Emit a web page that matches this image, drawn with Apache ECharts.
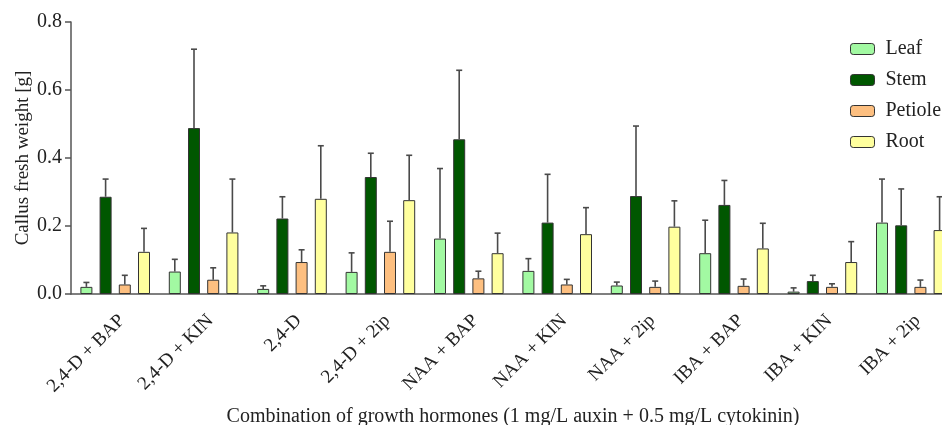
<!DOCTYPE html>
<html>
<head>
<meta charset="utf-8">
<script src="https://cdn.jsdelivr.net/npm/echarts@6/dist/echarts.min.js"></script>
<style>
  html, body { margin: 0; padding: 0; background: #fff; }
  #chart { width: 942px; height: 425px; }
</style>
</head>
<body>
<div id="chart"></div>
<script>
// values (g), error = SD above the mean
const categories = ['2,4-D + BAP', '2,4-D + KIN', '2,4-D', '2,4-D + 2ip', 'NAA + BAP',
  'NAA + KIN', 'NAA + 2ip', 'IBA + BAP', 'IBA + KIN', 'IBA + 2ip']
const seriesNames = ['Leaf', 'Stem', 'Petiole', 'Root']

const leaf = [0.021, 0.066, 0.015, 0.065, 0.163, 0.068, 0.025, 0.120, 0.007, 0.210]
const stem = [0.286, 0.488, 0.222, 0.344, 0.455, 0.210, 0.288, 0.262, 0.038, 0.202]
const petiole = [0.028, 0.042, 0.094, 0.124, 0.046, 0.028, 0.021, 0.024, 0.021, 0.021]
const root = [0.124, 0.181, 0.280, 0.276, 0.120, 0.176, 0.198, 0.134, 0.094, 0.188]

const leafErr = [0.013, 0.036, 0.009, 0.056, 0.206, 0.036, 0.010, 0.097, 0.011, 0.128]
const stemErr = [0.052, 0.232, 0.064, 0.070, 0.203, 0.142, 0.206, 0.072, 0.017, 0.107]
const petioleErr = [0.027, 0.035, 0.036, 0.090, 0.021, 0.015, 0.017, 0.020, 0.009, 0.020]
const rootErr = [0.069, 0.157, 0.156, 0.132, 0.059, 0.078, 0.076, 0.074, 0.060, 0.098]

const colors = ['#a2f9a2', '#005700', '#fdbf80', '#ffff9e']
const font = 'Liberation Serif'
const barWidth = 12
const barGap = 0.6

const means = [leaf, stem, petiole, root]
const errs = [leafErr, stemErr, petioleErr, rootErr]

const chart = echarts.init(document.getElementById('chart'))

const series = []
seriesNames.forEach((name, k) => {
  series.push({
    name,
    type: 'bar',
    data: means[k],
    barWidth,
    barGap: (barGap * 100) + '%',
    itemStyle: { color: colors[k], borderColor: '#333', borderWidth: 1 },
    animation: false
  })
})

seriesNames.forEach((name, k) => {
  const pitch = barWidth * (1 + barGap)
  const offset = (k - 1.5) * pitch
  series.push({
    type: 'custom',
    name: name + '_err',
    z: 5,
    silent: true,
    animation: false,
    data: means[k].map((v, i) => [i, v, v + errs[k][i]]),
    renderItem(params, api) {
      const lo = api.coord([api.value(0), api.value(1)])
      const hi = api.coord([api.value(0), api.value(2)])
      const x = lo[0] + offset
      const cap = 3
      const style = { stroke: '#4a4a4a', lineWidth: 1.6 }
      return {
        type: 'group',
        children: [
          { type: 'line', shape: { x1: x, y1: lo[1], x2: x, y2: hi[1] }, style },
          { type: 'line', shape: { x1: x - cap, y1: hi[1], x2: x + cap, y2: hi[1] }, style }
        ]
      }
    }
  })
})

const option = {
  backgroundColor: '#fff',
  textStyle: { fontFamily: font },
  legend: {
    data: seriesNames,
    orient: 'vertical',
    left: 845,
    top: 34,
    itemWidth: 24,
    itemHeight: 11,
    itemGap: 11,
    textStyle: { fontFamily: font, fontSize: 20, color: '#222', padding: [0, 0, 0, 6] },
    itemStyle: { borderColor: '#333', borderWidth: 1 }
  },
  grid: { left: 71, top: 22, width: 884, height: 272, containLabel: false, outerBoundsMode: 'none' },
  xAxis: {
    type: 'category',
    data: categories,
    name: 'Combination of growth hormones (1 mg/L auxin + 0.5 mg/L cytokinin)',
    nameLocation: 'middle',
    nameGap: 113,
    nameMoveOverlap: false,
    nameTextStyle: { fontFamily: font, fontSize: 20, color: '#222' },
    axisLine: { lineStyle: { color: '#555', width: 1.5 } },
    axisTick: { alignWithLabel: true, length: 6, lineStyle: { color: '#555', width: 1.5 } },
    axisLabel: {
      rotate: 45, fontFamily: font, fontSize: 19, color: '#222',
      margin: 17, interval: 0, verticalAlign: 'top'
    }
  },
  yAxis: {
    type: 'value',
    min: 0,
    max: 0.8,
    interval: 0.2,
    name: 'Callus fresh weight [g]',
    nameLocation: 'middle',
    nameGap: 38,
    nameMoveOverlap: false,
    nameTextStyle: { fontFamily: font, fontSize: 19, color: '#222' },
    splitLine: { show: false },
    axisLine: { show: true, lineStyle: { color: '#555', width: 1.5 } },
    axisTick: { show: true, length: 6, lineStyle: { color: '#555', width: 1.5 } },
    axisLabel: {
      fontFamily: font, fontSize: 20, color: '#222', margin: 9,
      formatter: v => v.toFixed(1)
    }
  },
  series
}

chart.setOption(option)
</script>
</body>
</html>
